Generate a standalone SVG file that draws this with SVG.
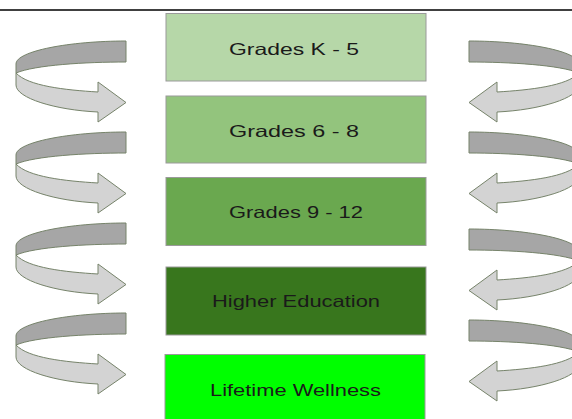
<svg xmlns="http://www.w3.org/2000/svg" xmlns:xlink="http://www.w3.org/1999/xlink" width="572" height="419" viewBox="0 0 572 419">
<style>
.box{stroke:#9a9a9a;stroke-width:1}
.lbl{font-family:"Liberation Sans",Arial,sans-serif;font-size:16.5px;fill:#1a1a1a;text-anchor:middle}
.dk{fill:#a6a6a6;stroke:#76836a;stroke-width:1;stroke-linejoin:round}
.lt{fill:#d3d3d3;stroke:#76836a;stroke-width:1;stroke-linejoin:round}
</style>
<defs>
<g id="uturn">
<path class="lt" d="M16,73 L16,85 C16,98 55,110 98,112 L98,122 L126,102.5 L98,82 L98,92 C65,90 28,86 16,73 Z"/>
<path class="dk" d="M126,41 L126,62 C85,62 35,65 16,73 L16,64 C16,51 70,41 126,41 Z"/>
</g>
</defs>
<line x1="0" y1="10" x2="572" y2="10" stroke="#000" stroke-width="1.4"/>
<g id="connectors">
<use xlink:href="#uturn"/>
<use xlink:href="#uturn" transform="translate(0,91)"/>
<use xlink:href="#uturn" transform="translate(0,182)"/>
<use xlink:href="#uturn" transform="translate(0,272)"/>
<use xlink:href="#uturn" transform="translate(595,0) scale(-1,1)"/>
<use xlink:href="#uturn" transform="translate(595,91) scale(-1,1)"/>
<use xlink:href="#uturn" transform="translate(595,188) scale(-1,1)"/>
<use xlink:href="#uturn" transform="translate(595,279) scale(-1,1)"/>
</g>
<g id="grades-k5">
<rect class="box" x="166" y="13.5" width="260" height="67.5" fill="#b6d7a8"/>
<text class="lbl" x="294" y="55" textLength="130" lengthAdjust="spacingAndGlyphs">Grades K - 5</text>
</g>
<g id="grades-6-8">
<rect class="box" x="166" y="96" width="260" height="67" fill="#93c47d"/>
<text class="lbl" x="294" y="136.5" textLength="130" lengthAdjust="spacingAndGlyphs">Grades 6 - 8</text>
</g>
<g id="grades-9-12">
<rect class="box" x="166" y="177.5" width="260" height="68" fill="#6aa84f"/>
<text class="lbl" x="296" y="218.3" textLength="134" lengthAdjust="spacingAndGlyphs">Grades 9 - 12</text>
</g>
<g id="higher-education">
<rect class="box" x="166" y="267" width="260" height="68" fill="#38761d"/>
<text class="lbl" x="296" y="306.7" textLength="168" lengthAdjust="spacingAndGlyphs">Higher Education</text>
</g>
<g id="lifetime-wellness">
<rect class="box" x="165" y="354.5" width="260" height="70" fill="#00ff00"/>
<text class="lbl" x="295.5" y="395.5" textLength="171" lengthAdjust="spacingAndGlyphs">Lifetime Wellness</text>
</g>
</svg>
